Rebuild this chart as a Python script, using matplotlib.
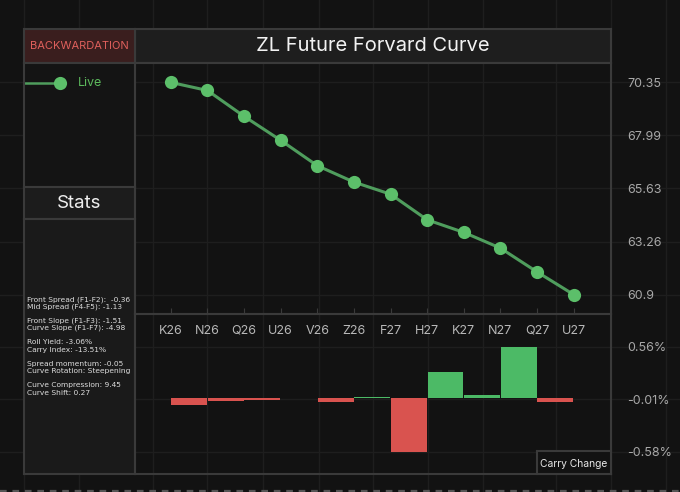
import matplotlib
matplotlib.use('Agg')
import matplotlib.pyplot as plt
from matplotlib.lines import Line2D
from matplotlib import transforms
import numpy as np

contracts = ['K26', 'N26', 'Q26', 'U26', 'V26', 'Z26', 'F27', 'H27', 'K27', 'N27', 'Q27', 'U27']
prices = [70.35, 69.99, 68.84, 67.77, 66.64, 65.91, 65.37, 64.23, 63.67, 62.97, 61.91, 60.90]
# change between neighbouring contracts, in %
carry_change = [-0.07, -0.03, -0.02, 0.0, -0.04, 0.01, -0.58, 0.29, 0.04, 0.56, -0.04]

title = 'ZL Future Forvard Curve'
regime = 'BACKWARDATION'
series_name = 'Live'
stats_groups = [
    ['Front Spread (F1-F2):  -0.36', 'Mid Spread (F4-F5): -1.13'],
    ['Front Slope (F1-F3): -1.51', 'Curve Slope (F1-F7): -4.98'],
    ['Roll Yield: -3.06%', 'Carry Index: -13.51%'],
    ['Spread momentum: -0.05', 'Curve Rotation: Steepening'],
    ['Curve Compression: 9.45', 'Curve Shift: 0.27'],
]

BG = '#121212'
BORDER = '#3a3a3a'
GRID = '#1e1e1e'
GREEN = '#5cbf6a'
LINE_GREEN = '#4f9d5d'
RED = '#d9534f'
BAR_GREEN = '#4cba66'
TICK_C = '#a8a8a8'

plt.rcParams.update({
    'font.family': ['Inter', 'DejaVu Sans'],
    'axes.unicode_minus': False,
})

W, H = 680, 492


def rect(x0, y0, x1, y1):
    # pixel box (top-left origin) -> figure fraction
    return [x0 / W, (H - y1) / H, (x1 - x0) / W, (y1 - y0) / H]


def box(x0, y0, x1, y1, fc, z=1):
    a = fig.add_axes(rect(x0, y0, x1, y1), zorder=z)
    a.set_facecolor(fc)
    a.set_xticks([])
    a.set_yticks([])
    a.set_xlim(0, 1)
    a.set_ylim(0, 1)
    for sp in a.spines.values():
        sp.set_color(BORDER)
        sp.set_linewidth(1.5)
    return a


fig = plt.figure(figsize=(6.8, 4.92), dpi=100, facecolor=BG)

# faint background grid
bg = fig.add_axes([0, 0, 1, 1], zorder=-10)
bg.set_facecolor(BG)
bg.set_xlim(0, W)
bg.set_ylim(H, 0)
bg.axis('off')
for xv in [24, 79, 153, 207, 263, 319, 373, 428, 483, 556, 611, 666]:
    bg.axvline(xv, color=GRID, lw=1)

x = np.arange(len(contracts))

# price curve
ax = fig.add_axes(rect(135, 63, 611, 314), zorder=2)
ax.set_facecolor('none')
ax.plot(x, prices, color=LINE_GREEN, lw=2.2, zorder=3)
ax.plot(x, prices, 'o', color=GREEN, ms=9.5, mec='none', zorder=4)
ax.set_xlim(-0.98, 12.02)
pmin, pmax = min(prices), max(prices)
rng = pmax - pmin
ax.set_ylim(pmin - 0.0915 * rng, pmax + 0.0915 * rng)
yt = np.linspace(pmin, pmax, 5)
ax.set_yticks(yt)
ax.set_yticklabels([f'{v + 1e-9:.2f}'.rstrip('0').rstrip('.') for v in yt])
ax.yaxis.tick_right()
ax.tick_params(axis='y', length=0, pad=11.5, labelsize=9, labelcolor=TICK_C)
ax.set_xticks(x)
ax.tick_params(axis='x', direction='in', length=4.5, color=BORDER, labelbottom=False)
for sp in ax.spines.values():
    sp.set_color(BORDER)
    sp.set_linewidth(1.5)

# carry change bars
ax2 = fig.add_axes(rect(135, 314, 611, 474), zorder=2)
ax2.set_facecolor('none')
cols = [BAR_GREEN if v > 0 else RED for v in carry_change]
ax2.bar(x[:-1] + 0.5, carry_change, width=0.98, color=cols, zorder=3)
ax2.set_xlim(-0.98, 12.02)
ax2.set_ylim(-0.822, 0.915)
cmin, cmax = min(carry_change), max(carry_change)
bt = [cmin, (cmin + cmax) / 2, cmax]
ax2.set_yticks(bt)
ax2.set_yticklabels([f'{v:.2f}%' for v in bt])
ax2.yaxis.tick_right()
ax2.tick_params(axis='y', length=0, pad=11.5, labelsize=9, labelcolor=TICK_C)
ax2.set_xticks([])
for i, c in enumerate(contracts):
    ax2.text(i, 0.894, c, transform=ax2.get_xaxis_transform(), ha='center', va='center',
             fontsize=9, color='#b8b8b8')
for sp in ax2.spines.values():
    sp.set_color(BORDER)
    sp.set_linewidth(1.5)

# grid lines at the value ticks, running over the whole width
for a, ticks in ((ax, yt), (ax2, bt)):
    tr = transforms.blended_transform_factory(fig.transFigure, a.transData)
    for v in ticks:
        bg.add_line(Line2D([0, 1], [v, v], transform=tr, color=GRID, lw=1))

cc = box(537, 451, 611, 474, BG, z=3)
cc.text(0.5, 0.45, 'Carry Change', ha='center', va='center', fontsize=7.4, color='#e8e8e8')

# header boxes
tb = box(135, 29, 611, 63, '#1e1e1e')
tb.text(0.5, 0.5, title, ha='center', va='center', fontsize=14.5, color='#f2f2f2')
rb = box(24, 29, 135, 63, '#3a1e1e')
rb.text(0.5, 0.5, regime, ha='center', va='center', fontsize=8, color='#e0605c')

# legend
lg = box(24, 63, 135, 187, '#141414')
ly = (187 - 83) / 124
lg.plot([0, 0.324], [ly, ly], color=LINE_GREEN, lw=1.8, clip_on=False)
lg.plot([0.324], [ly], 'o', color=GREEN, ms=9.5, mec='none')
lg.text(0.486, ly, series_name, ha='left', va='center', fontsize=9, color='#5cb85c')

# stats
sh = box(24, 187, 135, 219, '#1c1c1c')
sh.text(0.5, 0.5, 'Stats', ha='center', va='center', fontsize=13.5, color='#eeeeee')
sb = box(24, 219, 135, 474, '#1a1a1a')
for g, lines in enumerate(stats_groups):
    for k, s in enumerate(lines):
        ypx = 299.3 + 21.5 * g + 7.4 * k
        sb.text(0.024, (474 - ypx) / 255, s, ha='left', va='center', fontsize=5.4,
                color='#dddddd', family=['DejaVu Sans'])

# dashed strip at the bottom edge
fig.add_artist(Line2D([0, 1], [1.2 / H, 1.2 / H], transform=fig.transFigure,
                      color='#555555', lw=1.6, ls=(0, (3, 2.6))))

fig.savefig('out.png', dpi=100, facecolor=BG)
